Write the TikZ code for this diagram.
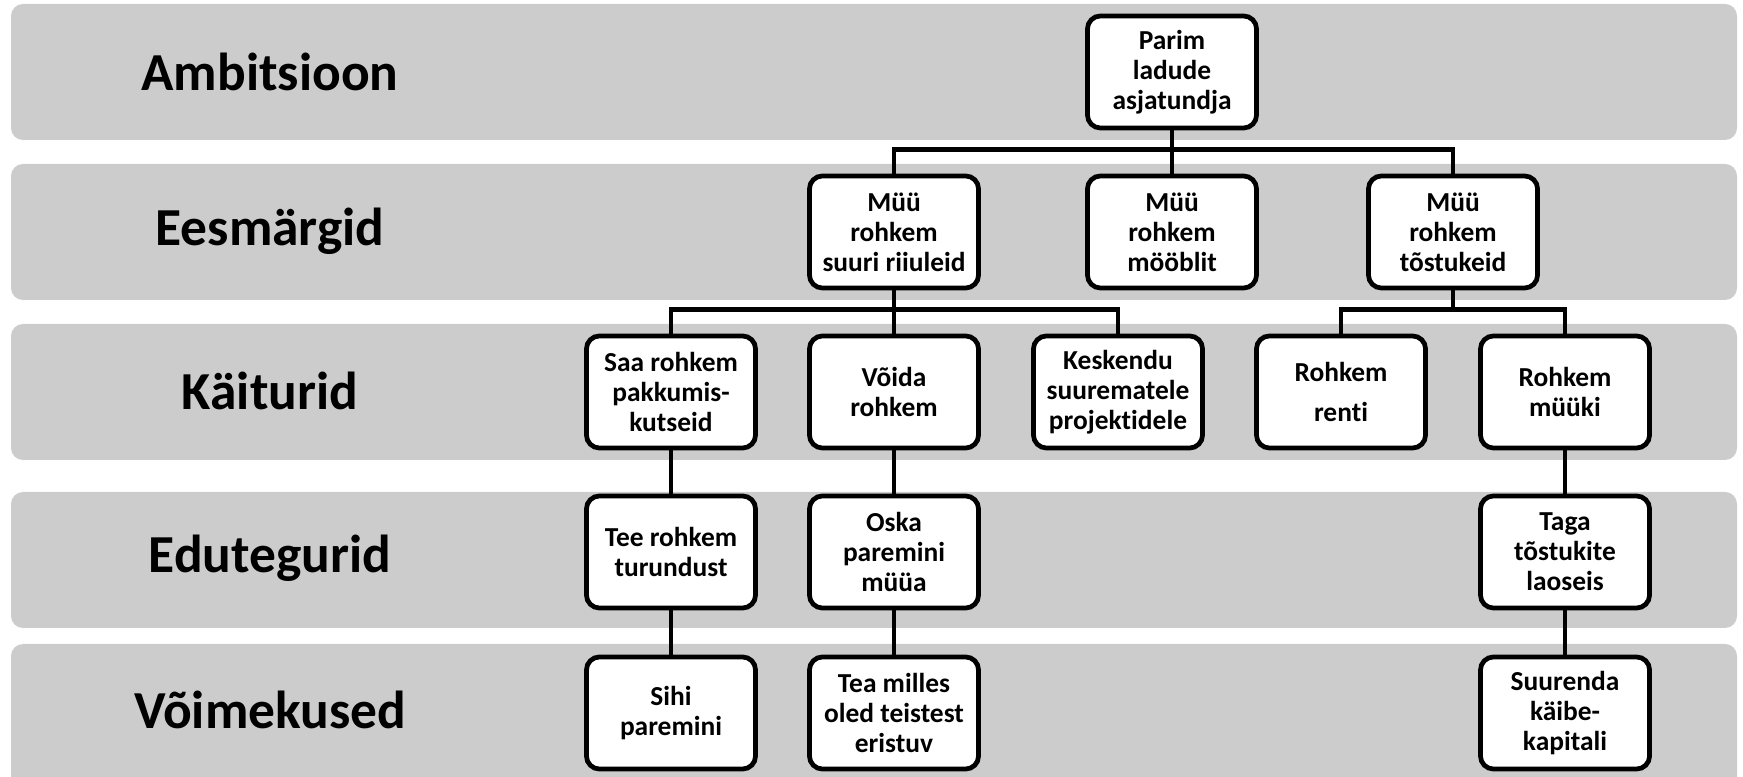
\documentclass[tikz,border=0pt]{standalone}
\usepackage{fontspec}
\setmainfont{Carlito}[RawFeature={-liga;-clig;-calt;-dlig}]

\begin{document}
\begin{tikzpicture}[x=0.01cm, y=-0.01cm,
  band/.style={fill=black!20, rounded corners=0.12cm},
  level/.style={font=\fontsize{15.2}{18}\selectfont\bfseries},
  goal/.style={draw, line width=1.35pt, fill=white, rounded corners=0.13cm,
    minimum width=1.69cm, minimum height=1.12cm, inner sep=0pt, align=center,
    font=\fontsize{7.8}{8.5}\selectfont\bfseries},
  link/.style={line width=1.35pt}]
  \clip (0,0) rectangle (1743,777);
  % levels
  \foreach \top/\bot/\mid/\name [count=\i] in {4/140/72/Ambitsioon, 164/300/231/Eesmärgid,
      324/460/391/Käiturid, 492/628/558/Edutegurid, 644/800/710/Võimekused} {
    \fill[band] (11,\top) rectangle (1737,\bot);
    \node[level] (lvl\i) at (270,\mid) {\name};
  }
  % boxes
  \node[goal] (parim) at (1172,72) {Parim\\ladude\\asjatundja};
  \node[goal] (suuri) at (894,232) {Müü\\rohkem\\suuri riiuleid};
  \node[goal] (moobel) at (1172,232) {Müü\\rohkem\\mööblit};
  \node[goal] (tost) at (1453,232) {Müü\\rohkem\\tõstukeid};
  \node[goal] (kutse) at (671,392) {Saa rohkem\\pakkumis-\\kutseid};
  \node[goal] (voida) at (894,392) {Võida\\rohkem};
  \node[goal] (kesk) at (1118,392) {Keskendu\\suurematele\\projektidele};
  \node[goal] (rent) at (1341,392) {Rohkem\\[3pt]renti};
  \node[goal] (myyk) at (1565,392) {Rohkem\\müüki};
  \node[goal] (turund) at (671,552) {Tee rohkem\\turundust};
  \node[goal] (oska) at (894,552) {Oska\\paremini\\müüa};
  \node[goal] (laos) at (1565,552) {Taga\\tõstukite\\laoseis};
  \node[goal] (sihi) at (671,713) {Sihi\\paremini};
  \node[goal] (eristu) at (894,713) {Tea milles\\oled teistest\\eristuv};
  \node[goal] (kapital) at (1565,713) {Suurenda\\käibe-\\kapitali};
  % links
  \draw[link] (parim) -- (moobel);
  \draw[link] (suuri.north) -- ++(0,-24) -| (tost.north);
  \draw[link] (suuri) -- (voida);
  \draw[link] (kutse.north) -- ++(0,-24) -| (kesk.north);
  \draw[link] (rent.north) -- ++(0,-24) coordinate (busB) -| (myyk.north);
  \draw[link] (tost.south) -- (tost.south |- busB);
  \draw[link] (kutse) -- (turund);
  \draw[link] (turund) -- (sihi);
  \draw[link] (voida) -- (oska);
  \draw[link] (oska) -- (eristu);
  \draw[link] (myyk) -- (laos);
  \draw[link] (laos) -- (kapital);
\end{tikzpicture}
\end{document}
